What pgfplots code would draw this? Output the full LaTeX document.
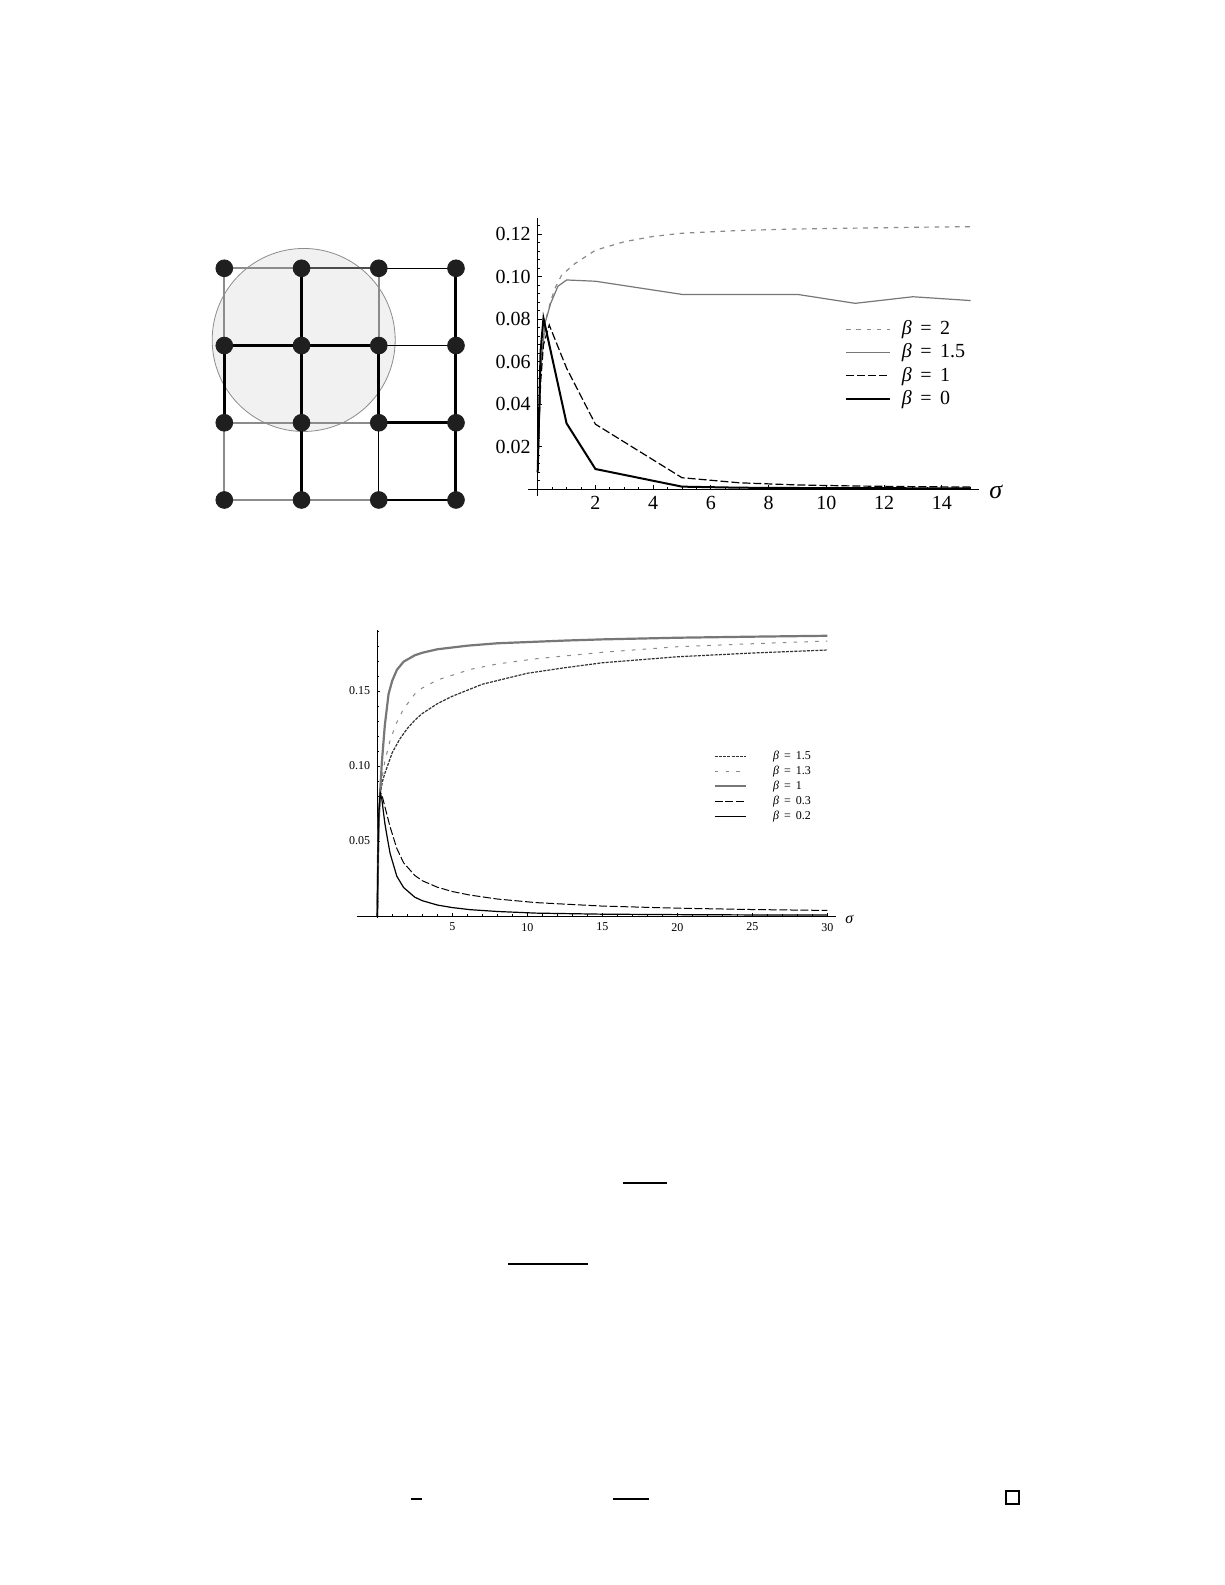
\documentclass[border=0pt]{standalone}
\usepackage{fontspec}
\setmainfont{Liberation Serif}
\usepackage{pgfplots}
\pgfplotsset{compat=1.18}

\definecolor{lgray}{HTML}{8A8A8A}
\definecolor{mgray}{HTML}{777777}
\definecolor{dgray}{HTML}{333333}
\definecolor{edgegray}{HTML}{8C8C8C}
\definecolor{discfill}{HTML}{F1F1F1}

\newcommand{\beq}[1]{\textit{β}\hspace{0.42em}=\hspace{0.42em}#1}

\pgfplotsset{
  pagebox/.style={
    scale only axis, clip=false,
    axis lines=middle,
    axis line style={-, line width=0.45pt},
    tick align=inside,
    tick style={black, line width=0.4pt},
    /pgf/number format/assume math mode=true,
    legend cell align=left,
  },
}

\begin{document}
\begin{tikzpicture}[x=1pt,y=1pt]
\fill[white] (0,0) rectangle (612.5,792.5);
\useasboundingbox (0,0) rectangle (612.5,792.5);

% lattice with the disc
\begin{axis}[
  at={(112.15pt,542.5pt)}, anchor=south west,
  scale only axis, hide axis, clip=false,
  width=115.85pt, height=115.85pt,
  xmin=0, xmax=3, ymin=0, ymax=3,
  unbounded coords=jump,
]
\draw[edgegray, line width=0.4pt, fill=discfill] (axis cs:1.028,2.072) circle[radius=45.75pt];
\addplot[edgegray, line width=1pt] coordinates {
  (0,3) (1,3) (nan,nan) (0,3) (0,2) (nan,nan) (0,1) (0,0) (nan,nan)
  (0,1) (1,1) (2,1) (nan,nan) (0,0) (1,0) (2,0) (nan,nan) (2,3) (2,2)};
\addplot[black!70, line width=1.2pt] coordinates {(1,3) (2,3)};
\addplot[black, line width=0.65pt] coordinates {
  (2,3) (3,3) (nan,nan) (2,2) (3,2) (nan,nan) (2,1) (2,0) (nan,nan) (2,0) (3,0)};
\addplot[black, line width=1.5pt] coordinates {
  (0,2) (1,2) (2,2) (nan,nan) (0,2) (0,1) (nan,nan) (1,3) (1,0) (nan,nan)
  (2,2) (2,1) (nan,nan) (3,3) (3,0) (nan,nan) (2,1) (3,1)};
\addplot[only marks, mark=*, mark size=4.2pt, black!88] coordinates {
  (0,0) (1,0) (2,0) (3,0) (0,1) (1,1) (2,1) (3,1)
  (0,2) (1,2) (2,2) (3,2) (0,3) (1,3) (2,3) (3,3)};
\end{axis}

% upper right plot
\begin{axis}[
  pagebox,
  at={(264.23pt,544.71pt)}, anchor=south west,
  width=225.4pt, height=138.6pt,
  xmin=-0.32, xmax=15.3, ymin=-0.003, ymax=0.1275,
  xtick={2,4,6,8,10,12,14},
  ytick={0.02,0.04,0.06,0.08,0.10,0.12},
  minor xtick={0.5,1,...,15},
  minor ytick={0.004,0.008,...,0.125},
  major tick length=2.2pt, minor tick length=1.2pt,
  yticklabel style={/pgf/number format/.cd, fixed, fixed zerofill, precision=2},
  ticklabel style={font=\fontsize{10}{12}\selectfont},
  xlabel={\textit{σ}},
  every axis x label/.style={at={(axis cs:15.3,0)}, anchor=west,
    font=\fontsize{13}{14}\selectfont, xshift=1.5pt, yshift=-1.5pt},
  legend style={at={(axis cs:10.64,0.0806)}, anchor=north west, draw=none, fill=none,
    inner sep=0pt, row sep=0.6pt, column sep=4.5pt,
    font=\fontsize{10}{12}\selectfont, nodes={inner sep=1.2pt}},
  legend image code/.code={\draw[#1] (0pt,0pt) -- (21.7pt,0pt);},
]
\addplot[lgray, line width=0.6pt, dash pattern=on 2.3pt off 2.8pt] coordinates {
  (0,0.009) (0.1,0.056) (0.25,0.078) (0.45,0.0885) (0.6,0.0946) (0.83,0.1008)
  (1.3,0.1063) (2,0.1125) (3,0.1165) (4,0.119) (5,0.1205) (7,0.1218)
  (9,0.1225) (11,0.1229) (13,0.1233) (15,0.1236)};
\addlegendentry{\beq{2}}
\addplot[mgray, line width=0.6pt] coordinates {
  (0,0.009) (0.1,0.055) (0.25,0.078) (0.45,0.0875) (0.7,0.0955) (1,0.0985)
  (2,0.0979) (5,0.0917) (9,0.0917) (11,0.0875) (13,0.0906) (15,0.0888)};
\addlegendentry{\beq{1.5}}
\addplot[black, line width=0.6pt, dash pattern=on 4pt off 1.5pt] coordinates {
  (0,0.009) (0.1,0.05) (0.2,0.068) (0.4,0.0773) (1,0.057) (2,0.0306)
  (5,0.0054) (7,0.003) (9,0.002) (11,0.0015) (13,0.0012) (15,0.001)};
\addlegendentry{\beq{1}}
\addplot[black, line width=1pt] coordinates {
  (0,0.008) (0.1,0.065) (0.2,0.0805) (1,0.031) (2,0.0095) (5,0.0012)
  (7,0.0007) (10,0.0005) (15,0.0004)};
\addlegendentry{\beq{0}}
\end{axis}

% middle plot
\begin{axis}[
  pagebox,
  at={(178.38pt,333.38pt)}, anchor=south west,
  width=239.78pt, height=144.15pt,
  xmin=-1.37, xmax=30.6, ymin=-0.0015, ymax=0.1907,
  xtick={5,10,15,20,25,30},
  ytick={0.05,0.10,0.15},
  minor xtick={1,2,...,30},
  minor ytick={0.01,0.02,...,0.19},
  major tick length=1.5pt, minor tick length=0.9pt,
  yticklabel style={/pgf/number format/.cd, fixed, fixed zerofill, precision=2},
  ticklabel style={font=\fontsize{6}{7}\selectfont},
  xlabel={\textit{σ}},
  every axis x label/.style={at={(axis cs:30.6,0)}, anchor=west,
    font=\fontsize{8}{9}\selectfont, xshift=1pt, yshift=-1.5pt},
  legend style={at={(axis cs:22.4,0.1118)}, anchor=north west, draw=none, fill=none,
    inner sep=0pt, row sep=0pt, column sep=12pt,
    font=\fontsize{6}{7}\selectfont, nodes={inner sep=1pt, text height=4.2pt, text depth=1.3pt}},
  legend image code/.code={\draw[#1] (0pt,0pt) -- (15.6pt,0pt);},
]
\addplot[dgray, line width=0.6pt, dash pattern=on 1.5pt off 0.6pt] coordinates {
  (0,0) (0.05,0.04) (0.1,0.065) (0.2,0.082) (0.35,0.09) (0.5,0.095) (1,0.109)
  (1.5,0.118) (2,0.125) (2.5,0.1305) (3,0.135) (4,0.1415) (5,0.1465) (7,0.1545)
  (10,0.1618) (12.5,0.1655) (15,0.1688) (20,0.1728) (25,0.1753) (30,0.1773)};
\addlegendentry{\beq{1.5}}
\addplot[lgray, line width=0.5pt, dash pattern=on 1.8pt off 3.6pt] coordinates {
  (0,0) (0.05,0.04) (0.1,0.065) (0.2,0.083) (0.35,0.094) (0.5,0.103) (0.85,0.117)
  (1.25,0.128) (1.75,0.138) (2.5,0.148) (3,0.152) (4,0.1573) (5,0.1605)
  (6.2,0.1644) (8,0.168) (10.6,0.1715) (15,0.1758) (20,0.1795) (25,0.1815) (30,0.1833)};
\addlegendentry{\beq{1.3}}
\addplot[mgray, line width=1.1pt] coordinates {
  (0,0) (0.05,0.04) (0.1,0.065) (0.2,0.085) (0.3,0.102) (0.5,0.127) (0.75,0.148)
  (1,0.157) (1.3,0.164) (1.75,0.1695) (2.5,0.1738) (3,0.1755) (4,0.1778)
  (5,0.179) (6,0.1802) (8,0.1818) (10,0.1826) (12.5,0.1836) (15,0.1844)
  (20,0.1855) (25,0.1862) (30,0.1868)};
\addlegendentry{\beq{1}}
\addplot[black, line width=0.5pt, dash pattern=on 4pt off 1.3pt] coordinates {
  (0,0) (0.05,0.045) (0.1,0.068) (0.2,0.082) (0.3,0.081) (0.5,0.073) (0.85,0.0595)
  (1.3,0.045) (1.75,0.0355) (2.5,0.027) (3,0.0235) (4,0.0192) (5,0.0163)
  (6.2,0.0139) (8,0.0113) (10.6,0.0089) (15,0.0066) (20,0.0052) (25,0.0043) (30,0.0037)};
\addlegendentry{\beq{0.3}}
\addplot[black, line width=0.6pt] coordinates {
  (0,0) (0.05,0.045) (0.1,0.068) (0.2,0.082) (0.3,0.078) (0.5,0.062) (0.65,0.053)
  (0.85,0.0418) (1.3,0.0265) (1.75,0.019) (2.5,0.0125) (3,0.0102) (4,0.0073)
  (5,0.0056) (6.2,0.0042) (8,0.003) (10.6,0.0019) (15,0.0012) (20,0.0009)
  (25,0.0007) (30,0.0006)};
\addlegendentry{\beq{0.2}}
\end{axis}

% remnants of the page text
\draw[line width=1pt] (311.65,201.15) -- (333.5,201.15);
\draw[line width=1pt] (254.15,160.5) -- (293.85,160.5);
\draw[line width=1pt] (205.5,42.75) -- (211,42.75);
\draw[line width=1pt] (306.25,42.75) -- (324.25,42.75);
\draw[line width=0.8pt] (503,40.5) rectangle (509.5,47);
\end{tikzpicture}
\end{document}
